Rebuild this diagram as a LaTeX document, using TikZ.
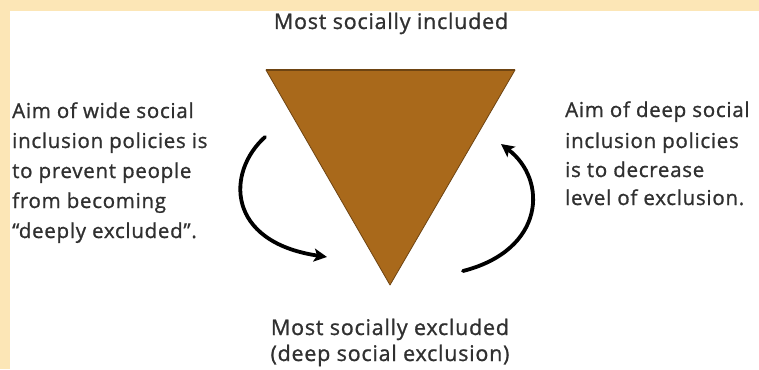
\documentclass[tikz,border=0pt]{standalone}
\usepackage{fontspec}
\setmainfont{Open Sans}[FakeBold=1,LetterSpace=3.5]
\usetikzlibrary{arrows.meta}
\definecolor{cream}{HTML}{FCE6B6}
\definecolor{tribrown}{HTML}{A9691B}
\definecolor{tridark}{HTML}{6E4412}
\definecolor{ink}{HTML}{303030}
\begin{document}
\begin{tikzpicture}[x=1pt,y=-1pt,
  lbl/.style={inner sep=0pt, text=ink, font=\fontsize{20.5}{20.5}\selectfont},
  endlbl/.style={lbl, font=\fontsize{21.5}{21.5}\selectfont},
  curvearrow/.style={line width=3.8pt, draw=black, line cap=round,
    -{Stealth[length=13pt,width=13pt,inset=3pt]}}]
  % page frame: cream band on the top and left, white panel
  \useasboundingbox (0,0) rectangle (759,369);
  \fill[cream] (0,0) rectangle (759,369);
  \fill[white] (10,11) rectangle (759,369);

  % inverted triangle
  \coordinate (tl) at (266,70);
  \coordinate (tr) at (515,70);
  \coordinate (apex) at (390,285);
  \fill[tribrown] (tl) -- (tr) -- (apex) -- cycle;
  \draw[tridark, line width=0.8pt, line join=round] (tl) -- (tr) -- (apex) -- cycle;
  \draw[tridark, line width=2.2pt] (tl) -- (tr);

  % labels at the top and bottom
  \node[endlbl, anchor=base] (top) at (391,29) {Most socially included};
  \node[endlbl, anchor=base] (bot1) at (390,335) {Most socially excluded};
  \node[endlbl, anchor=base] (bot2) at (390,361) {(deep social exclusion)};

  % left text block
  \node[lbl, anchor=base west] (l1) at (12,118) {Aim of wide social};
  \node[lbl, anchor=base west] (l2) at (12,148) {inclusion policies is};
  \node[lbl, anchor=base west] (l3) at (12,178) {to prevent people};
  \node[lbl, anchor=base west] (l4) at (12,208) {from becoming};
  \node[lbl, anchor=base west] (l5) at (12,238) {“deeply excluded”.};

  % right text block
  \node[lbl, anchor=base west] (r1) at (565,117) {Aim of deep social};
  \node[lbl, anchor=base west] (r2) at (565,148) {inclusion policies};
  \node[lbl, anchor=base west] (r3) at (565,177) {is to decrease};
  \node[lbl, anchor=base west] (r4) at (565,205) {level of exclusion.};

  % curved arrows
  \coordinate (la) at (265,137);
  \coordinate (lb) at (327,257);
  \coordinate (ra) at (463,271);
  \coordinate (rb) at (501,144);
  \draw[curvearrow] (la) .. controls (226,172) and (226,242) .. (lb);
  \draw[curvearrow] (ra) .. controls (545,250) and (548,180) .. (rb);
\end{tikzpicture}
\end{document}
